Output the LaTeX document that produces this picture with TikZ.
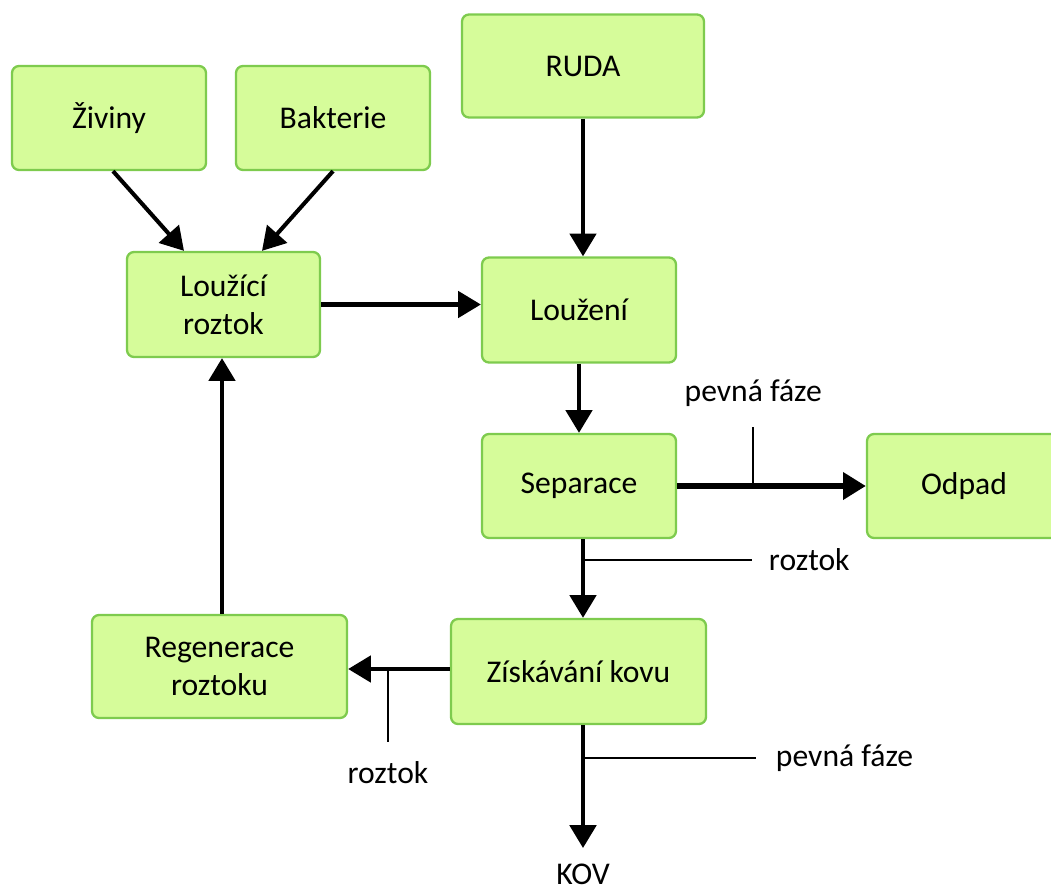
\documentclass[tikz,border=0pt]{standalone}
\usepackage{fontspec}
\setmainfont{Carlito}
\usepackage{xcolor}
\usetikzlibrary{positioning, arrows.meta, calc}
\definecolor{boxfill}{HTML}{D6FC9A}
\definecolor{boxline}{HTML}{7ECB4E}

\begin{document}
\begin{tikzpicture}[
    box/.style={
        draw=boxline,
        fill=boxfill,
        line width=1.3pt,
        rounded corners=4pt,
        minimum width=3.88cm,
        minimum height=2.08cm,
        align=center,
        font=\fontsize{18}{21.5}\selectfont
    },
    arrow/.style={
        -{Triangle[length=13pt, width=15pt]},
        line width=2.3pt
    },
    thin/.style={
        line width=1.1pt
    },
    lbl/.style={
        font=\fontsize{18}{21.5}\selectfont,
        inner sep=0pt
    }
]
\useasboundingbox (0,0) rectangle (21.02,17.8);

% Top Row
\node (zivi) [box] at (2.18,15.44) {Živiny};
\node (bakt) [box] at (6.66,15.44) {Bakterie};
\node (ruda) [box, minimum width=4.84cm, minimum height=2.06cm] at (11.66,16.48) {RUDA};

% Middle Rows
\node (lrozt) [box, minimum width=3.86cm, minimum height=2.10cm] at (4.47,11.71) {Loužící\\roztok};
\node (louz) [box, minimum height=2.10cm] at (11.58,11.60) {Loužení};
\node (sep) [box] at (11.58,8.08) {Separace};
\node (odpad) [box] at (19.28,8.08) {Odpad};

% Bottom Row
\node (ziskav) [box, minimum width=5.10cm, minimum height=2.10cm] at (11.57,4.37) {Získávání kovu};
\node (regen) [box, minimum width=5.10cm, minimum height=2.06cm] at (4.39,4.47) {Regenerace\\roztoku};
\node (kov) [lbl] at (11.66,0.31) {KOV};
\coordinate (kovtip) at (11.66,0.84);

% Inputs of the leaching solution
\draw [arrow] ([xshift=0.08cm]zivi.south) -- ([xshift=-0.79cm]lrozt.north);
\draw [arrow] (bakt.south) -- ([xshift=0.77cm]lrozt.north);

% Main line
\draw [arrow] (ruda.south) -- (ruda.south |- louz.north);
\draw [arrow] (lrozt.east) -- (lrozt.east -| louz.west);
\draw [arrow] (louz.south) -- (sep.north);
\draw [arrow, line width=3.4pt] (sep.east) -- (odpad.west);
\draw [arrow] ([xshift=0.08cm]sep.south) -- ([xshift=0.09cm]ziskav.north);
\draw [arrow] ([xshift=0.09cm]ziskav.south) -- (kovtip);
\draw [arrow] ([yshift=0.05cm]ziskav.west) -- ([yshift=0.05cm]ziskav.west -| regen.east);
\draw [arrow] ([xshift=0.05cm]regen.north) -- ([xshift=0.05cm]regen.north |- lrozt.south);

% Side streams
\coordinate (pf1) at ($(sep.east)!0.403!(odpad.west)$);
\draw [thin] (pf1) -- ++(0,1.18) node (pflbl) [lbl, above=0.38cm] {pevná fáze};
\coordinate (rz1) at (11.66,6.60);
\draw [thin] (rz1) -- ++(3.38,0) node (rzlbl) [lbl, right=0.32cm] {roztok};
\coordinate (rz2) at (7.76,4.42);
\draw [thin] (rz2) -- ++(0,-1.46) node (rz2lbl) [lbl, below=0.38cm] {roztok};
\coordinate (pf2) at (11.66,2.64);
\draw [thin] (pf2) -- ++(3.46,0) node (pf2lbl) [lbl, right=0.38cm] {pevná fáze};

\end{tikzpicture}
\end{document}
